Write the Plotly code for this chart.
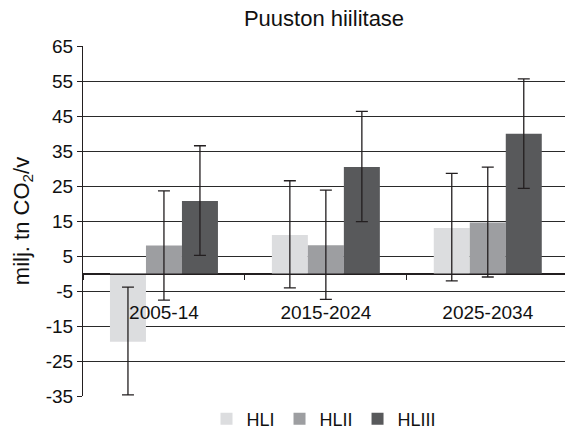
import plotly.graph_objects as go

categories = ["2005-14", "2015-2024", "2025-2034"]
series_names = ["HLI", "HLII", "HLIII"]

hli_values = [-19.5, 11.0, 13.0]
hlii_values = [8.0, 8.1, 14.6]
hliii_values = [20.7, 30.4, 39.9]

hli_err_plus = [15.6, 15.5, 15.6]
hli_err_minus = [15.2, 15.1, 15.1]
hlii_err_plus = [15.6, 15.7, 15.8]
hlii_err_minus = [15.6, 15.5, 15.6]
hliii_err_plus = [15.8, 15.9, 15.7]
hliii_err_minus = [15.5, 15.6, 15.6]

y_ticks = [-35, -25, -15, -5, 5, 15, 25, 35, 45, 55, 65]

colors = ["#dcdddf", "#9d9ea1", "#58595b"]
dark = "#231f20"
font = "Liberation Sans, Arial, sans-serif"

series = [
    (hli_values, hli_err_plus, hli_err_minus),
    (hlii_values, hlii_err_plus, hlii_err_minus),
    (hliii_values, hliii_err_plus, hliii_err_minus),
]

fig = go.Figure()
for name, (vals, ep, em), col in zip(series_names, series, colors):
    fig.add_trace(go.Bar(
        x=categories, y=vals, name=name,
        marker=dict(color=col, line=dict(width=0)),
        error_y=dict(type="data", array=ep, arrayminus=em, visible=True,
                     color=dark, thickness=1.3, width=6),
    ))

fig.update_layout(
    width=565, height=429,
    margin=dict(l=83, r=0, t=46, b=33, autoexpand=False),
    paper_bgcolor="white", plot_bgcolor="white",
    barmode="group", bargap=0.333, bargroupgap=0,
    font=dict(family=font, color="#111111", size=19),
    title=dict(text="Puuston hiilitase", x=0.5, xref="paper", xanchor="center",
               y=0.958, yanchor="middle", font=dict(size=22, family=font, color="#111111")),
    legend=dict(orientation="h", x=0.5, xanchor="center", y=-0.066, yanchor="middle",
                font=dict(size=18, family=font), itemwidth=30, traceorder="normal"),
    xaxis=dict(
        type="category", range=[-0.5, 2.477], automargin=False,
        anchor="free", position=0.35,
        showline=True, linecolor=dark, linewidth=1,
        ticks="outside", tickson="boundaries", ticklen=5, tickcolor=dark,
        ticklabelstandoff=22, tickfont=dict(size=19),
        showgrid=False, zeroline=False,
    ),
    yaxis=dict(
        range=[-35, 65], tickvals=y_ticks, ticktext=[str(v) for v in y_ticks],
        automargin=False,
        showline=True, linecolor=dark, linewidth=1,
        ticks="outside", ticklen=5, tickcolor=dark,
        showgrid=True, gridcolor="#2a2a2a", gridwidth=1.2,
        zeroline=True, zerolinecolor=dark, zerolinewidth=1.2,
        tickfont=dict(size=19),
        title=dict(text="milj. tn CO<sub>2</sub>/v", font=dict(size=22), standoff=10),
    ),
)

fig.write_html("out.html", config={"displayModeBar": False},
               post_script="document.body.style.margin='0';")
